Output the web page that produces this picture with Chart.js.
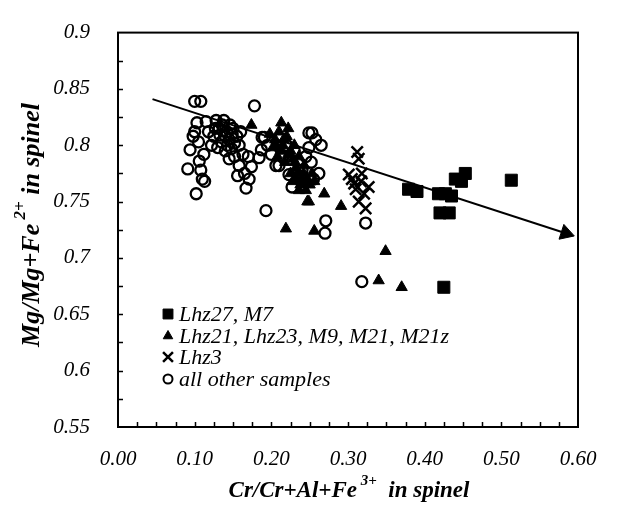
<!DOCTYPE html>
<html><head><meta charset="utf-8">
<script src="https://cdn.jsdelivr.net/npm/chart.js@4/dist/chart.umd.min.js"></script>
<style>html,body{margin:0;padding:0;background:#fff}</style>
</head><body>
<canvas id="c" width="642" height="507"></canvas>
<script>
const xTicks = [0, 0.1, 0.2, 0.3, 0.4, 0.5, 0.6];
const yTicks = [0.55, 0.6, 0.65, 0.7, 0.75, 0.8, 0.85, 0.9];
const legendLabels = ['Lhz27, M7', 'Lhz21, Lhz23, M9, M21, M21z', 'Lhz3', 'all other samples'];

const lhz27 = [[0.379,0.761],[0.390,0.759],[0.418,0.757],[0.427,0.757],[0.435,0.755],[0.420,0.740],[0.432,0.740],[0.440,0.770],[0.453,0.775],[0.448,0.768],[0.513,0.769],[0.425,0.674]];
const lhz21 = [[0.174,0.818],[0.213,0.820],[0.219,0.726],[0.247,0.750],[0.256,0.724],[0.256,0.768],[0.269,0.757],[0.249,0.750],[0.291,0.746],[0.349,0.706],[0.340,0.680],[0.370,0.674],
  [0.198,0.810],[0.205,0.805],[0.210,0.812],[0.215,0.800],[0.220,0.808],[0.225,0.795],[0.228,0.788],[0.232,0.780],[0.236,0.790],[0.240,0.770],[0.243,0.782],[0.238,0.765],[0.245,0.760],[0.218,0.785],[0.212,0.795],[0.225,0.775],[0.233,0.770],[0.202,0.798],[0.208,0.790],[0.222,0.815],[0.250,0.765],[0.253,0.775],
  [0.230,0.800],[0.235,0.776],[0.242,0.775],[0.228,0.768],[0.216,0.805],[0.206,0.800],[0.247,0.770],[0.236,0.760],[0.222,0.792],[0.231,0.785],[0.244,0.766]];
const lhz3 = [[0.312,0.794],[0.314,0.788],[0.301,0.774],[0.317,0.768],[0.327,0.763],[0.310,0.761],[0.321,0.757],[0.314,0.750],[0.323,0.744],[0.308,0.766],[0.318,0.775],[0.305,0.770]];
const others = [[0.100,0.839],[0.108,0.839],[0.178,0.835],
  [0.103,0.820],[0.094,0.796],[0.091,0.779],[0.106,0.786],[0.110,0.770],[0.102,0.757],[0.098,0.808],[0.105,0.803],[0.100,0.812],[0.112,0.792],[0.108,0.778],[0.113,0.768],
  [0.115,0.821],[0.128,0.822],[0.118,0.812],[0.125,0.808],[0.132,0.815],[0.138,0.822],[0.142,0.812],[0.135,0.803],[0.145,0.805],[0.150,0.815],[0.155,0.808],[0.148,0.797],[0.140,0.795],[0.152,0.790],[0.158,0.800],[0.160,0.812],[0.130,0.798],[0.122,0.800],[0.145,0.788],[0.163,0.792],[0.158,0.782],[0.165,0.775],[0.167,0.762],[0.171,0.770],[0.174,0.781],[0.170,0.790],[0.156,0.773],
  [0.136,0.818],[0.140,0.808],[0.146,0.818],[0.152,0.802],[0.133,0.809],[0.127,0.815],[0.143,0.800],[0.149,0.810],[0.137,0.813],
  [0.184,0.789],[0.187,0.796],[0.188,0.807],[0.191,0.807],[0.195,0.800],[0.206,0.782],[0.210,0.782],[0.200,0.792],[0.215,0.790],[0.223,0.774],[0.227,0.763],[0.220,0.800],[0.230,0.795],[0.235,0.785],[0.240,0.778],[0.245,0.790],[0.249,0.811],[0.249,0.798],[0.252,0.785],[0.253,0.811],[0.265,0.800],[0.258,0.805],[0.193,0.742],[0.262,0.775],[0.255,0.770],
  [0.271,0.733],[0.270,0.722],[0.323,0.731],[0.318,0.679]];
const trend = [[0.045,0.841],[0.584,0.722]];

const pts = a => a.map(p => ({x:p[0], y:p[1]}));
const FONT = 'Liberation Serif';

const framePlugin = {
  id: 'frame',
  afterDraw(chart) {
    const {ctx, chartArea: a, scales: {x, y}} = chart;
    ctx.save();
    ctx.strokeStyle = '#000';
    ctx.lineWidth = 2;
    ctx.strokeRect(a.left, a.top, a.right - a.left, a.bottom - a.top);
    ctx.lineWidth = 1.5;
    ctx.beginPath();
    for (let v = 0.025; v < 0.6; v += 0.025) {
      const px = Math.round(x.getPixelForValue(v)) + 0.5;
      ctx.moveTo(px, a.bottom); ctx.lineTo(px, a.bottom - 5);
    }
    for (let v = 0.575; v < 0.9; v += 0.025) {
      const py = Math.round(y.getPixelForValue(v)) + 0.5;
      ctx.moveTo(a.left, py); ctx.lineTo(a.left + 5, py);
    }
    ctx.stroke();

    function drawRich(parts, cx, cy, size) {
      const big = 'italic bold ' + size + 'px "' + FONT + '"';
      const sup = 'italic bold ' + Math.round(size * 0.65) + 'px "' + FONT + '"';
      let w = 0;
      parts.forEach(p => { ctx.font = p.s ? sup : big; w += ctx.measureText(p.t).width; });
      let cur = cx - w / 2;
      parts.forEach(p => {
        ctx.font = p.s ? sup : big;
        ctx.fillText(p.t, cur, cy - (p.s ? size * 0.42 : 0));
        cur += ctx.measureText(p.t).width;
      });
    }
    ctx.fillStyle = '#000';
    ctx.textBaseline = 'middle';
    ctx.textAlign = 'left';
    drawRich([{t:'Cr/Cr+Al+Fe'},{t:' 3+',s:1},{t:'  in spinel'}], 349, 491, 23);
    ctx.save();
    ctx.translate(32, 225);
    ctx.rotate(-Math.PI / 2);
    drawRich([{t:'Mg/Mg+Fe'},{t:' 2+',s:1},{t:' in spinel'}], 0, 0, 26);
    ctx.restore();

    const styles = [
      {pointStyle:'rect', radius:7, rotation:0, borderWidth:1, fill:true},
      {pointStyle:'triangle', radius:5.5, rotation:0, borderWidth:1, fill:true},
      {pointStyle:'crossRot', radius:7, rotation:0, borderWidth:2.5, fill:false},
      {pointStyle:'circle', radius:4.5, rotation:0, borderWidth:2, fill:false}
    ];
    const ly = [314, 336, 357, 379];
    ctx.font = 'italic 22px "' + FONT + '"';
    legendLabels.forEach((t, i) => {
      ctx.fillStyle = styles[i].fill ? '#000' : 'rgba(0,0,0,0)';
      ctx.strokeStyle = '#000';
      ctx.lineWidth = styles[i].borderWidth;
      Chart.helpers.drawPoint(ctx, styles[i], 168, ly[i]);
      ctx.fillStyle = '#000';
      ctx.fillText(t, 179, ly[i] + 1);
    });
    ctx.restore();
  }
};

new Chart(document.getElementById('c'), {
  type: 'scatter',
  data: { datasets: [
    {label:'trend', data: pts(trend), showLine:true, borderColor:'#000', borderWidth:2,
     pointRadius:[0,9], pointStyle:'triangle', pointRotation:108, backgroundColor:'#000', pointBorderColor:'#000', pointBorderWidth:1},
    {label: legendLabels[0], data: pts(lhz27), pointStyle:'rect', pointRadius:8.5, backgroundColor:'#000', borderColor:'#000', borderWidth:1},
    {label: legendLabels[1], data: pts(lhz21), pointStyle:'triangle', pointRadius:6.5, backgroundColor:'#000', borderColor:'#000', borderWidth:1},
    {label: legendLabels[2], data: pts(lhz3), pointStyle:'crossRot', pointRadius:8, borderColor:'#000', borderWidth:2.5},
    {label: legendLabels[3], data: pts(others), pointStyle:'circle', pointRadius:5.5, backgroundColor:'rgba(0,0,0,0)', borderColor:'#000', borderWidth:2.3}
  ]},
  options: {
    responsive:false, animation:false, devicePixelRatio:1,
    layout:{padding:{left:0, right:64, top:22, bottom:0}},
    plugins:{legend:{display:false}, tooltip:{enabled:false}},
    scales:{
      x:{type:'linear', min:0, max:0.6,
        afterBuildTicks: s => { s.ticks = xTicks.map(v => ({value:v})); },
        afterFit: s => { s.height = 80; },
        ticks:{callback: v => v.toFixed(2), font:{family:FONT, style:'italic', size:21}, color:'#000', padding:12, maxRotation:0, autoSkip:false},
        grid:{display:false}, border:{display:false}},
      y:{type:'linear', min:0.55, max:0.9,
        afterBuildTicks: s => { s.ticks = yTicks.map(v => ({value:v})); },
        afterFit: s => { s.width = 118; },
        ticks:{callback: v => String(parseFloat(v.toFixed(2))), font:{family:FONT, style:'italic', size:21}, color:'#000', padding:20, autoSkip:false},
        grid:{display:false}, border:{display:false}}
    }
  },
  plugins:[framePlugin]
});
</script>
</body></html>
